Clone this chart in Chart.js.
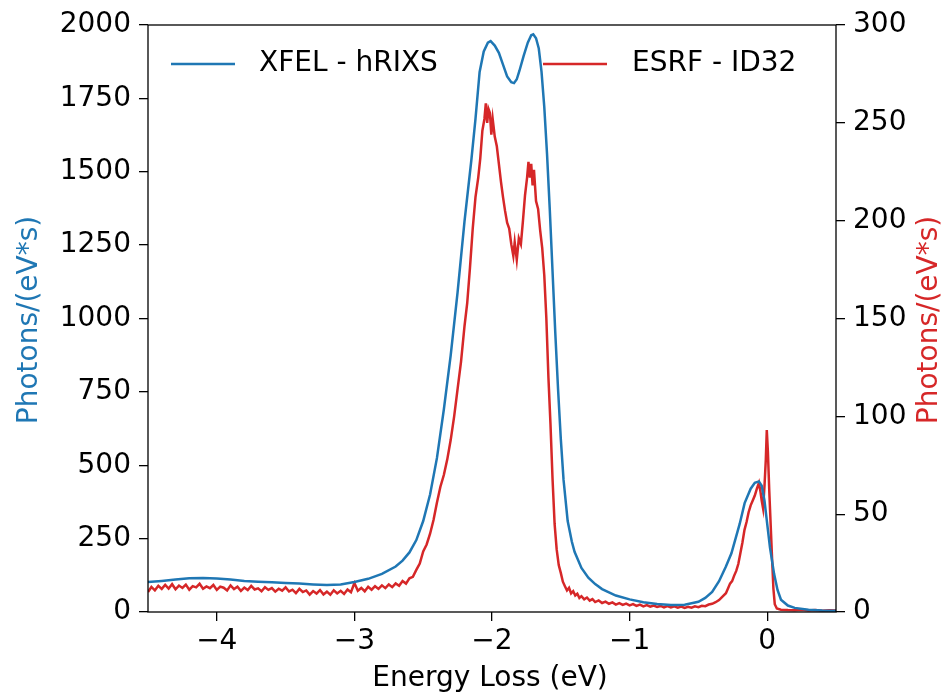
<!DOCTYPE html>
<html>
<head>
<meta charset="utf-8">
<script src="https://cdn.jsdelivr.net/npm/chart.js@4.4.0/dist/chart.umd.min.js"></script>
<style>
  body { margin: 0; background: #fff; }
  canvas { display: block; }
</style>
</head>
<body>
<canvas id="c" width="951" height="696"></canvas>
<script>
// XFEL - hRIXS spectrum (left axis)
const xfelX = [-4.5, -4.4, -4.3, -4.2, -4.1, -4.0, -3.9, -3.8, -3.7, -3.6, -3.5, -3.4, -3.3, -3.2, -3.1, -3.05, -3.0,
  -2.9, -2.8, -2.7, -2.65, -2.6, -2.55, -2.5, -2.45, -2.4, -2.35, -2.3, -2.25, -2.2, -2.15, -2.12, -2.09, -2.06, -2.03,
  -2.01, -1.98, -1.95, -1.92, -1.89, -1.86, -1.84, -1.82, -1.8, -1.77, -1.74, -1.715, -1.7, -1.68, -1.66, -1.64, -1.62,
  -1.6, -1.58, -1.56, -1.54, -1.52, -1.5, -1.48, -1.45, -1.42, -1.4, -1.35, -1.3, -1.25, -1.2, -1.1, -1.0, -0.9, -0.8,
  -0.7, -0.6, -0.5, -0.45, -0.4, -0.35, -0.3, -0.26, -0.2, -0.164, -0.12, -0.09, -0.06, -0.04, -0.02, 0.0, 0.02, 0.05,
  0.075, 0.1, 0.15, 0.2, 0.3, 0.4, 0.5];
const xfelY = [102, 106, 111, 115, 116, 114, 111, 106, 103, 101, 99, 97, 94, 92, 94, 98, 102,
  113, 130, 155, 175, 203, 245, 310, 400, 525, 690, 875, 1090, 1330, 1540, 1680, 1840, 1910, 1940,
  1945, 1930, 1905, 1865, 1825, 1805, 1802, 1815, 1845, 1895, 1940, 1965, 1968, 1955, 1920, 1840, 1720,
  1560, 1370, 1160, 950, 760, 590, 450, 310, 240, 205, 150, 117, 95, 78, 56, 43, 33, 27,
  24, 25, 35, 48, 68, 105, 155, 200, 300, 371, 420, 440, 445, 430, 380, 300, 220, 130,
  75, 42, 22, 14, 8, 5, 4];

// ESRF - ID32 spectrum (right axis)
const esrfX = [-4.5, -4.475, -4.45, -4.425, -4.4, -4.375, -4.35, -4.325, -4.3, -4.275, -4.25, -4.225, -4.2, -4.175,
  -4.15, -4.125, -4.1, -4.075, -4.05, -4.025, -4.0, -3.975, -3.95, -3.925, -3.9, -3.875, -3.85, -3.825, -3.8, -3.775,
  -3.75, -3.725, -3.7, -3.675, -3.65, -3.625, -3.6, -3.575, -3.55, -3.525, -3.5, -3.475, -3.45, -3.425, -3.4, -3.375,
  -3.35, -3.325, -3.3, -3.275, -3.25, -3.225, -3.2, -3.175, -3.15, -3.125, -3.1, -3.075, -3.05, -3.025, -3.0, -2.975,
  -2.95, -2.925, -2.9, -2.875, -2.85, -2.825, -2.8, -2.775, -2.75, -2.725, -2.7, -2.675, -2.65, -2.625, -2.6, -2.575,
  -2.55, -2.525, -2.5, -2.475, -2.45, -2.425, -2.4, -2.375, -2.35, -2.325, -2.3, -2.275, -2.25, -2.225, -2.2, -2.18,
  -2.16, -2.14, -2.12, -2.1, -2.085, -2.07, -2.055, -2.045, -2.035, -2.025, -2.015, -2.005, -1.995, -1.98, -1.965,
  -1.95, -1.935, -1.92, -1.905, -1.89, -1.875, -1.86, -1.845, -1.835, -1.82, -1.805, -1.79, -1.775, -1.76, -1.745,
  -1.735, -1.725, -1.715, -1.705, -1.695, -1.68, -1.665, -1.65, -1.635, -1.62, -1.605, -1.59, -1.575, -1.56, -1.545,
  -1.53, -1.515, -1.5, -1.485, -1.47, -1.455, -1.44, -1.425, -1.41, -1.395, -1.38, -1.365, -1.35, -1.33, -1.31, -1.29,
  -1.27, -1.25, -1.225, -1.2, -1.175, -1.15, -1.125, -1.1, -1.075, -1.05, -1.025, -1.0, -0.975, -0.95, -0.925, -0.9,
  -0.875, -0.85, -0.825, -0.8, -0.775, -0.75, -0.725, -0.7, -0.675, -0.65, -0.625, -0.6, -0.575, -0.55, -0.525, -0.5,
  -0.475, -0.45, -0.425, -0.4, -0.375, -0.35, -0.325, -0.3, -0.285, -0.27, -0.255, -0.24, -0.225, -0.21, -0.195, -0.18,
  -0.165, -0.15, -0.135, -0.12, -0.105, -0.09, -0.075, -0.06, -0.05, -0.04, -0.03, -0.02, -0.01, -0.003, 0.005, 0.015,
  0.025, 0.035, 0.045, 0.055, 0.07, 0.1, 0.15, 0.2, 0.25, 0.3, 0.35, 0.4, 0.45, 0.5];
const esrfY = [10.2, 12.8, 11.1, 13.4, 11.8, 13.9, 12.0, 14.2, 11.6, 13.5, 12.3, 14.0, 11.4, 13.2,
  12.6, 14.4, 11.9, 13.1, 12.2, 13.8, 11.3, 13.0, 12.4, 11.0, 13.6, 11.7, 12.9, 10.8, 12.5, 11.2,
  13.3, 11.5, 12.1, 10.6, 12.7, 11.3, 12.2, 10.4, 11.9, 10.9, 12.6, 10.5, 11.4, 9.6, 11.8, 10.2,
  11.0, 8.9, 10.7, 9.4, 11.2, 9.0, 10.4, 8.8, 11.1, 9.5, 10.8, 9.2, 11.5, 10.1, 14.8, 10.9,
  12.3, 10.6, 12.9, 11.4, 13.2, 11.8, 13.6, 12.2, 14.1, 12.7, 14.6, 13.4, 15.8, 14.5, 17.2, 18.0,
  21.5, 24.8, 31.0, 34.5, 40.0, 47.0, 56.0, 64.0, 70.0, 78.0, 88.0, 100.0, 114.0, 128.0, 146.0, 158.0,
  176.0, 196.0, 212.0, 222.0, 232.0, 246.0, 252.0, 260.0, 250.0, 257.0, 255.0, 244.0, 252.0, 243.0, 238.0,
  229.0, 220.0, 212.0, 205.0, 199.0, 196.0, 188.0, 182.0, 189.0, 180.0, 191.0, 188.0, 200.0, 213.0, 222.0,
  230.0, 222.0, 229.0, 218.0, 226.0, 210.0, 206.0, 195.0, 186.0, 172.0, 150.0, 120.0, 96.0, 68.0, 45.0,
  32.0, 24.0, 20.0, 15.5, 13.2, 11.0, 12.4, 9.5, 10.6, 8.4, 9.3, 7.2, 8.1, 6.5, 7.4, 5.8,
  6.6, 5.1, 5.9, 4.6, 5.3, 4.2, 4.9, 3.8, 4.5, 3.6, 4.3, 3.4, 4.0, 3.1, 3.8, 2.9,
  3.5, 2.7, 3.3, 2.6, 3.1, 2.4, 3.0, 2.3, 2.9, 2.2, 2.8, 2.1, 2.7, 2.2, 2.9, 2.5,
  3.2, 3.0, 3.8, 4.2, 5.0, 6.1, 7.9, 9.6, 12.0, 14.5, 15.8, 18.6, 21.0, 24.5, 30.0, 35.5,
  42.0, 46.0, 51.0, 54.5, 57.0, 59.5, 63.0, 66.0, 62.0, 57.0, 53.0, 64.0, 78.0, 93.0, 82.0, 62.0,
  45.0, 28.0, 12.0, 4.0, 1.8, 1.2, 1.0, 0.9, 1.1, 0.8, 1.0, 0.7, 0.9, 0.8];

const xTicks = [-4, -3, -2, -1, 0];
const leftTicks = [0, 250, 500, 750, 1000, 1250, 1500, 1750, 2000];
const rightTicks = [0, 50, 100, 150, 200, 250, 300];

const BLUE = '#1f77b4';
const RED = '#d62728';
const FONT = 'DejaVu Sans';

// matplotlib-style frame, axis labels and legend inside the axes
const extras = {
  id: 'extras',
  afterDraw(chart) {
    const { ctx, chartArea: a } = chart;
    ctx.save();
    ctx.strokeStyle = '#000';
    ctx.lineWidth = 1.3;
    ctx.strokeRect(a.left, a.top, a.right - a.left, a.bottom - a.top);

    ctx.font = '28px "' + FONT + '"';
    ctx.textAlign = 'center';
    ctx.textBaseline = 'middle';
    ctx.fillStyle = '#000';
    ctx.fillText('Energy Loss (eV)', 490, 679);

    ctx.save();
    ctx.translate(30, 320);
    ctx.rotate(-Math.PI / 2);
    ctx.fillStyle = BLUE;
    ctx.fillText('Photons/(eV*s)', 0, 0);
    ctx.restore();

    ctx.save();
    ctx.translate(930, 320);
    ctx.rotate(-Math.PI / 2);
    ctx.fillStyle = RED;
    ctx.fillText('Photons/(eV*s)', 0, 0);
    ctx.restore();

    // legend
    ctx.lineWidth = 2.5;
    ctx.strokeStyle = BLUE;
    ctx.beginPath(); ctx.moveTo(171, 64); ctx.lineTo(235, 64); ctx.stroke();
    ctx.strokeStyle = RED;
    ctx.beginPath(); ctx.moveTo(543, 64); ctx.lineTo(607, 64); ctx.stroke();
    ctx.textAlign = 'left';
    ctx.fillStyle = '#000';
    ctx.fillText('XFEL - hRIXS', 259, 64);
    ctx.fillText('ESRF - ID32', 632, 64);
    ctx.restore();
  }
};

const fmt = v => (v < 0 ? '\u2212' + Math.abs(v) : String(v));

const tickGrid = { display: true, drawOnChartArea: false, drawTicks: true, tickLength: 9, color: '#000', lineWidth: 1.3 };

new Chart(document.getElementById('c'), {
  type: 'line',
  data: {
    datasets: [
      {
        label: 'XFEL - hRIXS',
        data: xfelX.map((x, i) => ({ x: x, y: xfelY[i] })),
        borderColor: BLUE,
        borderWidth: 2.5,
        pointRadius: 0,
        yAxisID: 'y'
      },
      {
        label: 'ESRF - ID32',
        data: esrfX.map((x, i) => ({ x: x, y: esrfY[i] })),
        borderColor: RED,
        borderWidth: 2.5,
        pointRadius: 0,
        yAxisID: 'y2'
      }
    ]
  },
  options: {
    responsive: false,
    devicePixelRatio: 1,
    animation: false,
    layout: { padding: { top: 25, left: 0, right: 0, bottom: 0 } },
    plugins: { legend: { display: false }, tooltip: { enabled: false } },
    scales: {
      x: {
        type: 'linear',
        min: -4.5,
        max: 0.5,
        afterBuildTicks: s => { s.ticks = xTicks.map(v => ({ value: v })); },
        afterFit: s => { s.height = 84; },
        grid: tickGrid,
        border: { display: false },
        ticks: { font: { family: FONT, size: 28 }, color: '#000', padding: 4, maxRotation: 0, callback: fmt }
      },
      y: {
        position: 'left',
        min: 0,
        max: 2000,
        afterBuildTicks: s => { s.ticks = leftTicks.map(v => ({ value: v })); },
        afterFit: s => { s.width = 148; },
        grid: tickGrid,
        border: { display: false },
        ticks: { font: { family: FONT, size: 28 }, color: '#000', padding: 8, callback: fmt }
      },
      y2: {
        position: 'right',
        min: 0,
        max: 300,
        afterBuildTicks: s => { s.ticks = rightTicks.map(v => ({ value: v })); },
        afterFit: s => { s.width = 115; },
        grid: tickGrid,
        border: { display: false },
        ticks: { font: { family: FONT, size: 28 }, color: '#000', padding: 8, callback: fmt }
      }
    }
  },
  plugins: [extras]
});
</script>
</body>
</html>
